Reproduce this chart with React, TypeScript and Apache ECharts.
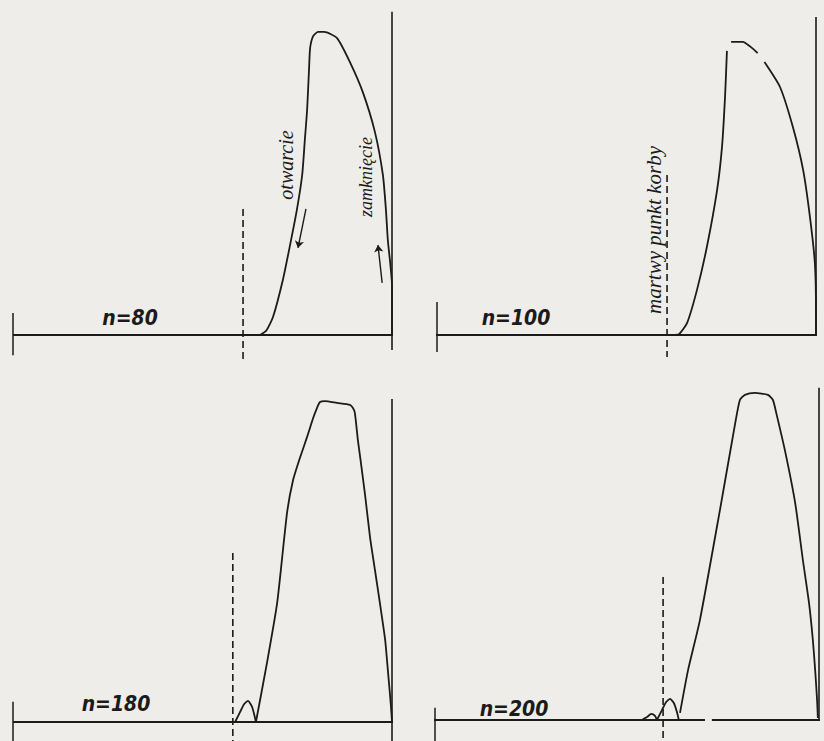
import React, { useEffect, useRef } from "react";
import * as echarts from "echarts";

// Engine speeds (rev/min) of the four indicator diagrams
const speeds = [80, 100, 180, 200];

// Valve lift curves: [crank position, % of stroke; valve lift, arbitrary units]
const lift80 = [
  [65.2, 0], [66.8, 1.3], [68.6, 5.6], [71.2, 17.2], [73.1, 28.1], [74.9, 39.1],
  [76.3, 50], [77.0, 60.9], [77.6, 70.3], [78.1, 82.8], [78.4, 89.7], [79.2, 93.4],
  [80.5, 94.7], [82.1, 94.7], [85.5, 92.8], [88.9, 85.3], [92.3, 75.9], [95.5, 63.4],
  [97.6, 50], [98.4, 39.1], [98.9, 29.7], [99.5, 22.8], [100, 15.6], [100, 0],
];
const lift100Rise = [
  [62.8, 0], [63.9, 0.3], [66.0, 3.8], [68.6, 14.1], [71.2, 27.5], [73.9, 45.3],
  [75.2, 58.8], [76.0, 74.4], [76.5, 88.8],
];
const lift100Top = [[77.6, 91.6], [80.7, 91.6], [82.6, 90.2], [84.6, 88.1]];
const lift100Fall = [
  [86.4, 85.3], [90.5, 77.5], [93.9, 65], [96.6, 51.6], [98.4, 36.9], [99.7, 22.5],
  [100, 6.9], [100, 0],
];
const lift180Pre = [[58.6, 0], [59.9, 3.1], [61.0, 5.6], [62.0, 6.6], [63.1, 4.7], [64.1, 0]];
const lift180 = [
  [64.1, 0], [67.0, 18.4], [69.7, 37.2], [72.3, 65.3], [73.9, 75.6], [75.7, 82.5],
  [77.6, 89.1], [79.2, 95], [80.2, 98.1], [81.0, 100], [82.3, 100.3], [85.5, 99.7],
  [88.9, 99.1], [89.7, 98.1], [90.2, 96.6], [91.0, 88.1], [91.6, 82.8], [92.9, 70.9],
  [94.2, 57.8], [95.5, 47.5], [96.8, 37.2], [98.2, 25.6], [98.9, 16.3], [99.7, 5.3], [100, 0],
];
const lift200PreA = [[53.9, 0], [55.2, 0.9], [56.3, 1.9], [57.3, 1.3], [57.8, 0]];
const lift200PreB = [[57.8, 0], [59.1, 3.1], [60.2, 5.6], [61.2, 6.6], [62.2, 5.3], [63.0, 2.5], [63.5, 0]];
const lift200 = [
  [63.8, 2.2], [65.9, 15.6], [69.0, 31.3], [74.2, 65.6], [78.1, 92.2], [79.4, 100],
  [80.7, 101.6], [83.3, 102.2], [86.7, 101.6], [88.0, 100], [88.8, 96.3], [91.1, 84.4],
  [93.8, 67.8], [95.8, 50], [97.4, 36.6], [98.4, 25], [99.0, 15.6], [99.5, 6.3], [99.7, 0.6],
];

// Reference lines of each diagram
const baselines = [
  [[0, 103.4]],
  [[-4.5, 102.1]],
  [[0, 103.4]],
  [[-4.2, 70.3], [72.1, 101.3]],
];
const startTickSpan = [[6.9, -6.3], [10.3, -5.3], [6.3, -5.9], [3.8, -6.6]];
const deadCentreX = [60.7, 60.7, 58.0, 59.4];
const deadCentreSpan = [[39.4, -7.8], [50, -6.9], [52.8, -5.9], [44.7, -6.6]];
const strokeEndSpan = [[101, -4.7], [99.4, 0], [100.9, -5.9], [103.8, 0]];
// direction arrows on the n=80 diagram
const arrows80 = [
  [[77.3, 39.4], [75.2, 27.2]],
  [[97.4, 16.3], [96.3, 28.1]],
];

const curves = [
  [lift80],
  [lift100Rise, lift100Top, lift100Fall],
  [lift180Pre, lift180],
  [lift200PreA, lift200PreB, lift200],
];

// layout of the four panels (pixels)
const layout = [
  { left: 13, base: 335, w: 379 },
  { left: 437, base: 335, w: 379 },
  { left: 13, base: 722, w: 379 },
  { left: 435, base: 720, w: 384 },
];
const SY = 3.2;
const INK = "#1b1b1b";

export default function App() {
  const ref = useRef<HTMLDivElement>(null);
  useEffect(() => {
    if (!ref.current) return;
    const chart = echarts.init(ref.current, undefined, { renderer: "svg" });
    const grid = layout.map((l) => ({
      left: l.left,
      top: l.base - 100 * SY,
      width: l.w,
      height: 100 * SY,
      containLabel: false,
    }));
    const xAxis = layout.map((_, i) => ({ type: "value", gridIndex: i, min: 0, max: 100, show: false }));
    const yAxis = layout.map((_, i) => ({ type: "value", gridIndex: i, min: 0, max: 100, show: false }));
    const series: any[] = [];
    const line = (i: number, data: number[][], width: number, dashed = false, smooth: number | boolean = false) => ({
      type: "line",
      xAxisIndex: i,
      yAxisIndex: i,
      data,
      clip: false,
      showSymbol: false,
      symbol: "none",
      smooth,
      silent: true,
      lineStyle: { color: INK, width, type: dashed ? [7, 4] : "solid" },
    });
    layout.forEach((_, i) => {
      baselines[i].forEach((seg) => series.push(line(i, [[seg[0], 0], [seg[1], 0]], 2)));
      series.push(line(i, [[0, startTickSpan[i][0]], [0, startTickSpan[i][1]]], 1.5));
      series.push(line(i, [[deadCentreX[i], deadCentreSpan[i][0]], [deadCentreX[i], deadCentreSpan[i][1]]], 1.6, true));
      series.push(line(i, [[100, strokeEndSpan[i][0]], [100, strokeEndSpan[i][1]]], 1.6));
      curves[i].forEach((c) => series.push(line(i, c, 1.8, false, 0.2)));
    });
    series.push({
      type: "lines",
      coordinateSystem: "cartesian2d",
      xAxisIndex: 0,
      yAxisIndex: 0,
      symbol: ["none", "arrow"],
      symbolSize: 7,
      silent: true,
      lineStyle: { color: INK, width: 1.4, curveness: 0, opacity: 1 },
      data: arrows80.map((a) => ({ coords: a })),
    });

    const labelPos = [[130, 318], [516, 318], [116, 704], [514, 709]];
    const nLabels = speeds.map((s, i) => ({
      type: "text",
      x: labelPos[i][0],
      y: labelPos[i][1],
      style: {
        text: `n=${s}`,
        fill: INK,
        fontSize: 21,
        fontStyle: "italic",
        fontWeight: "bold",
        fontFamily: '"Liberation Sans Narrow", "DejaVu Sans Condensed", sans-serif',
        align: "center",
        verticalAlign: "middle",
      },
    }));
    const vText = (text: string, x: number, y: number, size: number) => ({
      type: "text",
      x,
      y,
      rotation: Math.PI / 2,
      style: {
        text,
        fill: INK,
        fontSize: size,
        fontStyle: "italic",
        fontFamily: '"Liberation Serif", "DejaVu Serif", serif',
        align: "center",
        verticalAlign: "middle",
      },
    });

    chart.setOption({
      animation: false,
      backgroundColor: "#eeede9",
      grid,
      xAxis,
      yAxis,
      series,
      graphic: [
        ...nLabels,
        vText("otwarcie", 286, 165, 20),
        vText("zamknięcie", 366, 177, 18),
        vText("martwy punkt korby", 654, 230, 21),
      ],
    } as any);
    return () => chart.dispose();
  }, []);
  return (
    <div
      ref={ref}
      style={{ position: "fixed", left: 0, top: 0, width: 824, height: 741 }}
    />
  );
}
